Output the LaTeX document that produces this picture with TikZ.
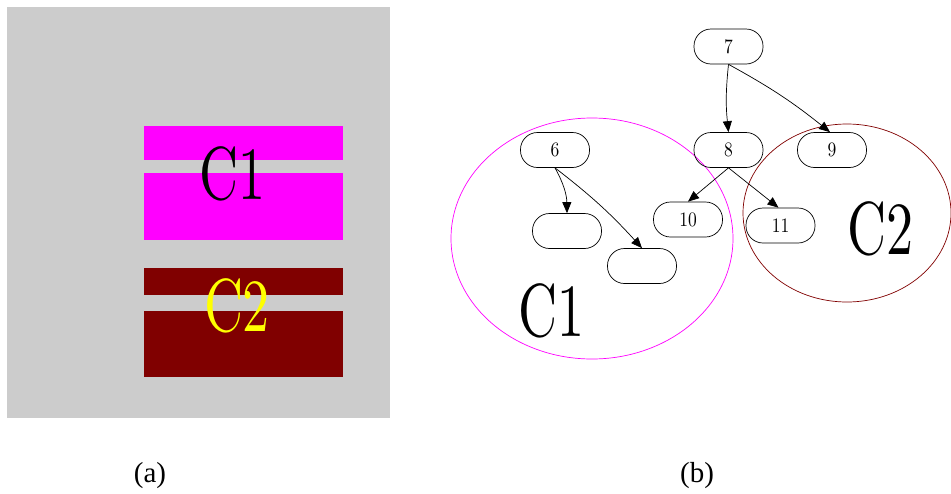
\documentclass[tikz,border=0pt]{standalone}
\usepackage{fontspec}
\newfontfamily\timesf{Liberation Serif}
\usetikzlibrary{arrows.meta}
\definecolor{bggray}{HTML}{CCCCCC}
\definecolor{mag}{HTML}{FF00FF}
\definecolor{mar}{HTML}{800000}
\definecolor{yel}{HTML}{FFFF00}
\tikzset{
  pill/.style={draw, line width=0.7pt, rounded corners=17pt, minimum width=69pt, minimum height=35pt, inner sep=0pt, font=\fontsize{10}{10}\selectfont},
  big/.style={inner sep=0pt, font=\fontsize{10}{10}\selectfont},
  captxt/.style={inner sep=0pt, font=\timesf\fontsize{29}{29}\selectfont},
  edge/.style={-{Triangle[length=11pt,width=9pt]}, line width=0.7pt},
}
\newcommand{\tallnum}[1]{\scalebox{1.75}[2.05]{#1}}
\newcommand{\tallbig}[1]{\scalebox{5.4}[7.5]{#1}}
\begin{document}
\begin{tikzpicture}[x=1pt,y=-1pt]
\useasboundingbox (0,0) rectangle (951,493);
% panel (a)
\fill[bggray] (7,7) rectangle (390,418);
\fill[mag] (144,126) rectangle (343,160);
\fill[mag] (144,173) rectangle (343,240);
\fill[mar] (144,268) rectangle (343,295);
\fill[mar] (144,311) rectangle (343,377);
\node[big] (ac1) at (232.5,173.5) {\tallbig{C1}};
\node[big, text=yel] (ac2) at (237,306) {\tallbig{C2}};
\node[captxt] (la) at (150,476) {(a)};
% panel (b)
\draw[mag, line width=0.7pt] (592,238.5) ellipse [x radius=141, y radius=120.5];
\draw[mar, line width=0.7pt] (847,213) ellipse [x radius=104, y radius=89];
\node[pill] (n7) at (728.5,46.5) {\tallnum{7}};
\node[pill] (n8) at (728.5,150) {\tallnum{8}};
\node[pill] (n9) at (832,150) {\tallnum{9}};
\node[pill] (n6) at (555,150) {\tallnum{6}};
\node[pill] (na) at (567,231) {};
\node[pill] (nb) at (642,266) {};
\node[pill] (n10) at (688,219.5) {\tallnum{10}};
\node[pill] (n11) at (780.5,225.5) {\tallnum{11}};
\node[big] (bc1) at (551.5,310.5) {\tallbig{C1}};
\node[big] (bc2) at (880,228.5) {\tallbig{C2}};
\node[captxt] (lb) at (697,476) {(b)};
\draw[edge] (n7.south) to[bend right=6] (n8.north);
\draw[edge] (n7.south) to[bend left=5] ([xshift=-2pt]n9.north);
\draw[edge] (n8.south) -- (n10.north);
\draw[edge] (n8.south) -- ([xshift=-2pt]n11.north);
\draw[edge] (n6.south) to[bend left=14] (na.north);
\draw[edge] (n6.south) to[bend left=5] (nb.north);
\end{tikzpicture}
\end{document}
